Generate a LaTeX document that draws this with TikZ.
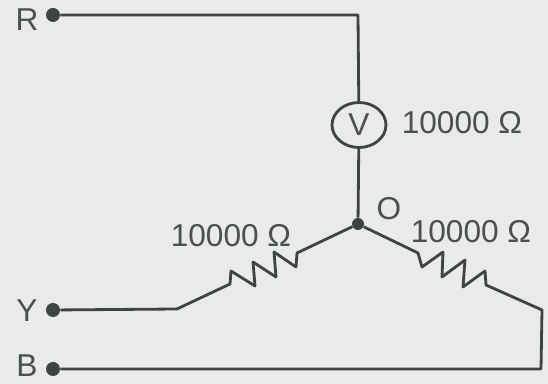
\documentclass[tikz,border=0pt]{standalone}
\usepackage{fontspec}
\setmainfont{Liberation Sans}
\usetikzlibrary{shapes.geometric}
\definecolor{paper}{HTML}{E9EAEC}
\definecolor{wire}{HTML}{3F4341}
\definecolor{ink}{HTML}{4C4F50}
\begin{document}
\begin{tikzpicture}[x=0.02cm, y=-0.02cm]
    \tikzset{
        lbl/.style={text=ink, inner sep=0pt, font=\fontsize{18}{22}\selectfont},
        terminal/.style={circle, fill=wire, inner sep=0pt, minimum size=0.28cm},
        meter/.style={ellipse, draw=wire, line width=1.6pt, fill=paper, inner sep=0pt, minimum width=1.08cm, minimum height=0.9cm, text=ink, font=\fontsize{18}{22}\selectfont},
        wiring/.style={draw=wire, line width=1.6pt, line join=round}
    }
    \fill [paper] (0,0) rectangle (548,384);
    \useasboundingbox (0,0) rectangle (548,384);
    \node [terminal] (R) at (53,15) {};
    \node [terminal] (Y) at (53,310) {};
    \node [terminal] (B) at (53,369) {};
    \node [terminal, minimum size=0.24cm] (O) at (358,224) {};
    \node [meter] (V) at (359,125) {V};
    \coordinate (Rc) at (358,15);
    \coordinate (Yc) at (177,309);
    \coordinate (Bc) at (541,369);
    \coordinate (Dc) at (542,310);
    \draw [wiring] (R) -- (Rc) -- (V);
    \draw [wiring] (V) -- (O);
    % left resistor
    \draw [wiring] (O) -- (297,253) -- (296,267) -- (274,252) -- (276,277) -- (253,262)
        -- (255,286) -- (231,271) -- (230,284) -- (Yc) -- (Y);
    % right resistor
    \draw [wiring] (O) -- (418,253) -- (422,267) -- (443,252) -- (442,277) -- (465,260)
        -- (463,287) -- (485,271) -- (486,285) -- (Dc) -- (Bc) -- (B);
    \node [lbl] (lR) at (27,20) {R};
    \node [lbl] (lY) at (27,311) {Y};
    \node [lbl] (lB) at (27,366) {B};
    \node [lbl] (lO) at (389,209) {O};
    \node [lbl] (rV) at (462,123) {10000 Ω};
    \node [lbl] (rL) at (231,236) {10000 Ω};
    \node [lbl] (rR) at (471,232) {10000 Ω};
\end{tikzpicture}
\end{document}
